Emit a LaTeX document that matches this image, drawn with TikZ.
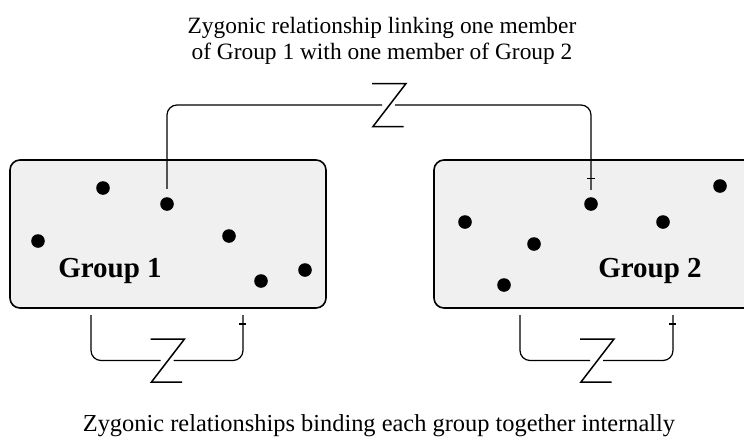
\documentclass[tikz,border=0pt]{standalone}
\usepackage{fontspec}
\setmainfont{Liberation Serif}
\definecolor{boxgray}{HTML}{F0F0F0}
\tikzset{
  groupbox/.style={draw, fill=boxgray, line width=0.8pt, rounded corners=5pt,
    minimum height=74pt, inner sep=0pt},
  dot/.style={circle, fill=black, inner sep=0pt, minimum size=6.8pt},
  link/.style={line width=0.6pt, rounded corners=5pt},
  zyg/.pic={
    \draw[line width=0.75pt] (-16.5,-21.5) -- (17.5,-21.5) -- (-15.5,21.5) -- (15,21.5);
    \coordinate (-w) at (-6.5,0);
    \coordinate (-e) at (6.5,0);
  }
}
\begin{document}
\begin{tikzpicture}[x=0.5pt, y=-0.5pt]
        \useasboundingbox (0,0) rectangle (744,440);

        % Groups
        \node(g1) [groupbox, minimum width=158pt] at (168,234) {};
        \node(g2) [groupbox, minimum width=160pt] at (594,234) {};
        \node(l1) at (110,271) {\fontsize{14.5}{17}\selectfont\bfseries Group 1};
        \node(l2) at (650,271) {\fontsize{14.5}{17}\selectfont\bfseries Group 2};

        % Members of group 1
        \node(a1) [dot] at (103,188) {};
        \node(a2) [dot] at (167,204) {};
        \node(a3) [dot] at (38,241) {};
        \node(a4) [dot] at (229,236) {};
        \node(a5) [dot] at (261,281) {};
        \node(a6) [dot] at (305,270) {};

        % Members of group 2
        \node(b1) [dot] at (465,222) {};
        \node(b2) [dot] at (534,244) {};
        \node(b3) [dot] at (504,285) {};
        \node(b4) [dot] at (591,204) {};
        \node(b5) [dot] at (663,222) {};
        \node(b6) [dot] at (720,186) {};

        % Zygonic symbols
        \pic(ztop) at (388.5,105) {zyg};
        \pic(zone) at (167,360.5) {zyg};
        \pic(ztwo) at (596.5,360.5) {zyg};

        % Link between the groups
        \draw[link] ([yshift=4pt]a2.north) |- (ztop-w);
        \draw[link] (ztop-e) -| ([yshift=3.5pt]b4.north);
        \draw[line width=0.6pt] ([xshift=-2pt, yshift=9pt]b4.north) -- ++(8,0);

        % Links inside each group
        \coordinate(o1) at (91,315);
        \coordinate(i1) at (243,315);
        \coordinate(o2) at (520,315);
        \coordinate(i2) at (673,315);
        \draw[link] (o1) |- (zone-w);
        \draw[link] (zone-e) -| (i1);
        \draw[link] (o2) |- (ztwo-w);
        \draw[link] (ztwo-e) -| (i2);
        \draw[line width=0.6pt] ([xshift=-2pt, yshift=-4.5pt]i1) -- ++(7,0);
        \draw[line width=0.6pt] ([xshift=-2pt, yshift=-4.5pt]i2) -- ++(7,0);

        % Captions
        \node(top) [align=center, font=\fontsize{11.7}{13}\selectfont] at (382,40.5)
          {Zygonic relationship linking one member\\of Group 1 with one member of Group 2};
        \node(bottom) [anchor=base, font=\fontsize{12.2}{14}\selectfont] at (379,431)
          {Zygonic relationships binding each group together internally};

    \end{tikzpicture}
\end{document}
